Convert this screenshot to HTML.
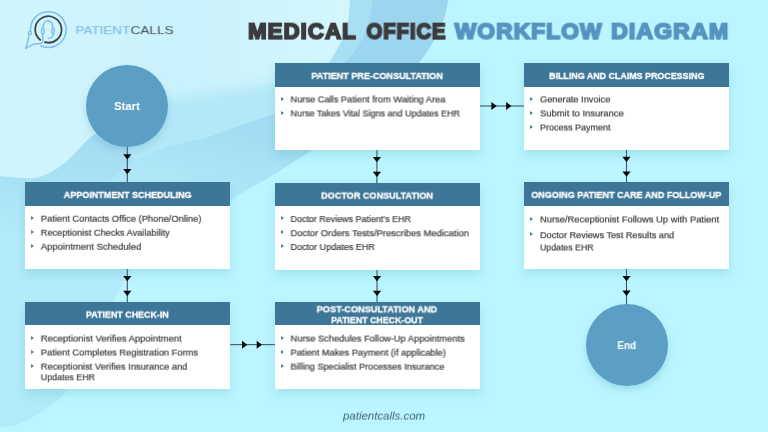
<!DOCTYPE html>
<html><head><meta charset="utf-8">
<style>
html,body{margin:0;padding:0;}
body{will-change:transform;width:768px;height:432px;overflow:hidden;position:relative;background:#bbf5ff;font-family:"Liberation Sans",sans-serif;}
.abs{position:absolute;left:0;top:0;}
.box{position:absolute;background:#fff;box-shadow:0 5px 9px rgba(60,160,178,0.21);}
.hd{position:absolute;background:#3e7697;}
.t{position:absolute;left:0;top:0;white-space:nowrap;height:20px;transform-origin:0 0;filter:blur(0.22px);}
.bl{position:absolute;width:0;height:0;border-left:3.4px solid #487f99;border-top:2.15px solid transparent;border-bottom:2.15px solid transparent;}
.circ{position:absolute;border-radius:50%;background:#5c9fc5;box-shadow:0 4px 7px rgba(60,150,178,0.25);}
</style></head><body>

<svg class="abs" width="768" height="432" viewBox="0 0 768 432">
<defs>
<linearGradient id="gR0" gradientUnits="userSpaceOnUse" x1="0" y1="0" x2="350" y2="0"><stop offset="0" stop-color="#d0f5fe"/><stop offset="0.25" stop-color="#cff4fd"/><stop offset="0.5" stop-color="#caf2fc"/><stop offset="0.75" stop-color="#cef4fd"/><stop offset="0.95" stop-color="#d4f7fe"/></linearGradient>
<linearGradient id="gM" gradientUnits="userSpaceOnUse" x1="235" y1="125" x2="215" y2="195">
<stop offset="0" stop-color="#a3dcf2"/><stop offset="1" stop-color="#b0e7f8"/>
</linearGradient>
<linearGradient id="gL" gradientUnits="userSpaceOnUse" x1="0" y1="140" x2="0" y2="430">
<stop offset="0" stop-color="#a4dbf1"/><stop offset="0.14" stop-color="#a9e2f5"/><stop offset="0.34" stop-color="#b3ebfa"/><stop offset="1" stop-color="#b1eaf9"/>
</linearGradient>
<linearGradient id="gF" gradientUnits="userSpaceOnUse" x1="222" y1="78" x2="226" y2="98">
<stop offset="0" stop-color="#d0f5fe" stop-opacity="1"/><stop offset="1" stop-color="#d0f5fe" stop-opacity="0"/>
</linearGradient>
<clipPath id="cR0"><path d="M-5 -5 L349.8 -5 L349.8 0 C349.6 8 349 15 348 22 C346.5 31 343.5 38 339.8 44.3 C336 51 333 57 329.8 62 C325 70 312 86 300 92 L276 98 L150 116 C135 118 110 125 93 135 C80 146 72 158 62 165 C55 170 50 173 47 174 C40 177 35 178.5 30 178.5 C20 178 10 177 0 176 L-5 176 Z"/></clipPath>
<filter id="soft" x="-20%" y="-20%" width="140%" height="140%"><feGaussianBlur stdDeviation="6"/></filter>
<filter id="s1" x="-5%" y="-5%" width="110%" height="110%"><feGaussianBlur stdDeviation="0.5"/></filter>
</defs>
<rect width="768" height="432" fill="#bbf5ff"/>
<g filter="url(#s1)">
<!-- band 2 top (between wave2 and wave3), continues hidden behind C -->
<path fill="#9cd5ef" d="M360 -5 L448.3 -5 L448.3 0 C447 8 445.3 15 442.7 22 C440 30 436 37.5 431.7 44.3 C428 50.5 424 56.5 419.5 62 C400 88 370 108 340 130 L300 130 L300 70 Z"/>
<!-- M region -->
<path fill="url(#gM)" d="M100 192 C112 180 122 168 135 161 C146 155 157 150 168 146.5 C182 142.5 196 140 210 136 L276 113 L330 96 L330 136 L312.5 150 L276 173.3 L230 200 L200 218 Z"/>
<!-- L region -->
<path fill="url(#gL)" d="M-5 120 L150 100 L150 152 C143 156 140 158 135 161 C122 168 112 180 100 192 L128 250 L131 269 C128 273 127 277 125 281 C121 288 117 294 113 301 C100 330 80 360 68 389 C66 392 63.5 394.5 61 397 C58 400 54.5 403 50.8 405.4 C45.5 409.5 40 413 33.9 416.4 C28.5 419.5 23 422.2 17 424.4 C11.5 426.2 6 427 0 427.4 L-5 427.6 Z"/>
<!-- band 1 top -->
<path fill="#a9dff3" d="M340 -5 L372.3 -5 L372.3 0 C371.5 8 370.3 15 368.6 22 C366.5 30 363.5 37.5 359.7 44.3 C355.5 51 350.5 57 345.3 62 C340 70 330 80 320 90 L290 90 L290 60 Z"/>
<!-- N region -->
<path fill="#b4e8f8" d="M127 70 L300 60 L300 105 L276 113 L210 136 C196 140 182 142.5 168 146.5 C157 150 146 155 135 161 L127 150 Z"/>
<!-- R0 -->
<path fill="url(#gR0)" d="M-5 -5 L349.8 -5 L349.8 0 C349.6 8 349 15 348 22 C346.5 31 343.5 38 339.8 44.3 C336 51 333 57 329.8 62 C325 70 312 86 300 92 L276 98 L150 116 C135 118 110 125 93 135 C80 146 72 158 62 165 C55 170 50 173 47 174 C40 177 35 178.5 30 178.5 C20 178 10 177 0 176 L-5 176 Z"/>
</g>
<g clip-path="url(#cR0)"><path filter="url(#soft)" fill="#b4e8f8" d="M347 40 C341 55 336 64 322 72 L300 78 L276 83 L168 98 L140 104 L140 160 L370 160 L370 40 Z"/></g>
</svg>

<svg class="abs" width="768" height="432" viewBox="0 0 768 432">
<g fill="none" stroke-linecap="round" stroke-linejoin="round">
<path d="M30.53 31.3 A17.85 17.85 0 1 1 40.87 45.83" stroke="#82bdea" stroke-width="1.6"/>
<circle cx="29.9" cy="33.1" r="1.6" stroke="#82bdea" stroke-width="1.3"/>
<path d="M29.3 34.9 L25.9 48.5 L32.8 44.3 L40.3 43.5 Q42.8 43.2 42.8 40.6 L42.8 34.4" stroke="#82bdea" stroke-width="1.45"/>
<path d="M40.29 39.92 A13.2 13.2 0 1 1 44.92 42.23" stroke="#3d464e" stroke-width="1.8"/>
<path d="M43.0 28.0 A4.95 7.6 0 0 1 52.9 28.0" stroke="#82bdea" stroke-width="1.5"/>
<ellipse cx="42.8" cy="31.1" rx="1.3" ry="2.9" stroke="#82bdea" stroke-width="1.4"/>
<ellipse cx="53.1" cy="31.1" rx="1.3" ry="2.9" stroke="#82bdea" stroke-width="1.4"/>
<path d="M53.2 34.2 Q53.0 38.0 48.3 38.4" stroke="#82bdea" stroke-width="1.35"/>
</g>
</svg>

<div class="t" style="font:11.5px 'Liberation Sans';line-height:20.0px;color:#84bce3;transform:translate(75.48px,20.10px) rotate(0.05deg) scaleX(1.1670);-webkit-text-stroke:0.15px #84bce3;">PATIENT</div>
<div class="t" style="font:11.5px 'Liberation Sans';line-height:20.0px;color:#434f59;transform:translate(130.60px,20.10px) rotate(0.05deg) scaleX(1.1804);">CALLS</div>
<div class="t" style="font:bold 22px 'Liberation Sans';line-height:20.0px;color:#3b3a3d;transform:translate(248.09px,21.60px) rotate(0.05deg) scaleX(1.0136);-webkit-text-stroke:1.80px currentColor;letter-spacing:1.0px;">MEDICAL</div>
<div class="t" style="font:bold 22px 'Liberation Sans';line-height:20.0px;color:#3b3a3d;transform:translate(366.50px,21.60px) rotate(0.05deg) scaleX(0.9236);-webkit-text-stroke:1.80px currentColor;letter-spacing:1.0px;">OFFICE</div>
<div class="t" style="font:bold 22px 'Liberation Sans';line-height:20.0px;color:#5594c0;transform:translate(454.70px,21.60px) rotate(0.05deg) scaleX(1.0378);-webkit-text-stroke:1.80px currentColor;letter-spacing:1.0px;">WORKFLOW</div>
<div class="t" style="font:bold 22px 'Liberation Sans';line-height:20.0px;color:#5594c0;transform:translate(611.15px,21.60px) rotate(0.05deg) scaleX(1.0526);-webkit-text-stroke:1.80px currentColor;letter-spacing:1.0px;">DIAGRAM</div>
<svg class="abs" width="768" height="432" viewBox="0 0 768 432"><rect x="126.75" y="146.00" width="1.1" height="36.60" fill="#10242c" opacity="0.75"/><path d="M123.20 154.20h8.2l-4.1 5.3z" fill="#050505"/><path d="M123.20 168.90h8.2l-4.1 5.3z" fill="#050505"/><rect x="126.75" y="268.80" width="1.1" height="33.60" fill="#10242c" opacity="0.75"/><path d="M123.20 276.05h8.2l-4.1 5.3z" fill="#050505"/><path d="M123.20 290.75h8.2l-4.1 5.3z" fill="#050505"/><rect x="376.35" y="149.50" width="1.1" height="33.90" fill="#10242c" opacity="0.75"/><path d="M372.80 157.00h8.2l-4.1 5.3z" fill="#050505"/><path d="M372.80 171.70h8.2l-4.1 5.3z" fill="#050505"/><rect x="376.45" y="269.40" width="1.1" height="33.00" fill="#10242c" opacity="0.75"/><path d="M372.90 276.05h8.2l-4.1 5.3z" fill="#050505"/><path d="M372.90 290.75h8.2l-4.1 5.3z" fill="#050505"/><rect x="625.95" y="149.50" width="1.1" height="33.20" fill="#10242c" opacity="0.75"/><path d="M622.40 156.80h8.2l-4.1 5.3z" fill="#050505"/><path d="M622.40 171.50h8.2l-4.1 5.3z" fill="#050505"/><rect x="625.95" y="268.80" width="1.1" height="35.70" fill="#10242c" opacity="0.75"/><path d="M622.40 275.90h8.2l-4.1 5.3z" fill="#050505"/><path d="M622.40 290.60h8.2l-4.1 5.3z" fill="#050505"/><rect x="229.80" y="344.10" width="45.20" height="1.1" fill="#10242c" opacity="0.75"/><path d="M241.97 340.65v8l5.3 -4z" fill="#050505"/><path d="M256.67 340.65v8l5.3 -4z" fill="#050505"/><rect x="479.40" y="105.45" width="45.10" height="1.1" fill="#10242c" opacity="0.75"/><path d="M491.40 102.00v8l5.3 -4z" fill="#050505"/><path d="M506.10 102.00v8l5.3 -4z" fill="#050505"/></svg>
<div class="circ" style="left:86.20px;top:64.80px;width:82.0px;height:82.0px"></div>
<div class="t" style="font:bold 10.4px 'Liberation Sans';line-height:20.0px;color:#fff;transform:translate(114.15px,97.00px) rotate(0.05deg) scaleX(1.0862);">Start</div>
<div class="circ" style="left:585.50px;top:303.90px;width:82.0px;height:82.0px"></div>
<div class="t" style="font:bold 10.4px 'Liberation Sans';line-height:20.0px;color:#fff;transform:translate(617.35px,336.10px) rotate(0.05deg) scaleX(0.9597);">End</div>
<div class="box" style="left:25.0px;top:182.2px;width:204.9px;height:86.90px"></div>
<div class="hd" style="left:25.0px;top:182.2px;width:204.9px;height:23.50px"></div>
<div class="t" style="font:bold 9.6px 'Liberation Sans';line-height:20.0px;color:#fff;transform:translate(63.75px,184.90px) rotate(0.05deg) scaleX(0.9406);-webkit-text-stroke:0.3px #fff;">APPOINTMENT SCHEDULING</div>
<div class="t" style="font:9.6px 'Liberation Sans';line-height:20.0px;color:#38383a;transform:translate(40.80px,208.70px) rotate(0.05deg) scaleX(0.9719);-webkit-text-stroke:0.2px #38383a;">Patient Contacts Office (Phone/Online)</div>
<i class="bl" style="left:30.90px;top:215.85px"></i>
<div class="t" style="font:9.6px 'Liberation Sans';line-height:20.0px;color:#38383a;transform:translate(40.80px,222.70px) rotate(0.05deg) scaleX(0.9567);-webkit-text-stroke:0.2px #38383a;">Receptionist Checks Availability</div>
<i class="bl" style="left:30.90px;top:229.85px"></i>
<div class="t" style="font:9.6px 'Liberation Sans';line-height:20.0px;color:#38383a;transform:translate(40.80px,236.70px) rotate(0.05deg) scaleX(0.9858);-webkit-text-stroke:0.2px #38383a;">Appointment Scheduled</div>
<i class="bl" style="left:30.90px;top:243.85px"></i>
<div class="box" style="left:25.0px;top:302.0px;width:204.9px;height:86.90px"></div>
<div class="hd" style="left:25.0px;top:302.0px;width:204.9px;height:23.40px"></div>
<div class="t" style="font:bold 9.6px 'Liberation Sans';line-height:20.0px;color:#fff;transform:translate(86.05px,304.60px) rotate(0.05deg) scaleX(0.9277);-webkit-text-stroke:0.3px #fff;">PATIENT CHECK-IN</div>
<div class="t" style="font:9.6px 'Liberation Sans';line-height:20.0px;color:#38383a;transform:translate(40.80px,328.55px) rotate(0.05deg) scaleX(0.9855);-webkit-text-stroke:0.2px #38383a;">Receptionist Verifies Appointment</div>
<i class="bl" style="left:30.90px;top:335.70px"></i>
<div class="t" style="font:9.6px 'Liberation Sans';line-height:20.0px;color:#38383a;transform:translate(40.80px,342.50px) rotate(0.05deg) scaleX(0.9698);-webkit-text-stroke:0.2px #38383a;">Patient Completes Registration Forms</div>
<i class="bl" style="left:30.90px;top:349.65px"></i>
<div class="t" style="font:9.6px 'Liberation Sans';line-height:20.0px;color:#38383a;transform:translate(40.80px,356.60px) rotate(0.05deg) scaleX(0.9743);-webkit-text-stroke:0.2px #38383a;">Receptionist Verifies Insurance and</div>
<i class="bl" style="left:30.90px;top:363.75px"></i>
<div class="t" style="font:9.6px 'Liberation Sans';line-height:20.0px;color:#38383a;transform:translate(40.80px,367.30px) rotate(0.05deg) scaleX(0.9246);-webkit-text-stroke:0.2px #38383a;">Updates EHR</div>
<div class="box" style="left:274.75px;top:63.4px;width:204.9px;height:86.35px"></div>
<div class="hd" style="left:274.75px;top:63.4px;width:204.9px;height:23.20px"></div>
<div class="t" style="font:bold 9.6px 'Liberation Sans';line-height:20.0px;color:#fff;transform:translate(311.45px,65.90px) rotate(0.05deg) scaleX(0.9437);-webkit-text-stroke:0.3px #fff;">PATIENT PRE-CONSULTATION</div>
<div class="t" style="font:9.6px 'Liberation Sans';line-height:20.0px;color:#38383a;transform:translate(290.55px,89.40px) rotate(0.05deg) scaleX(0.9638);-webkit-text-stroke:0.2px #38383a;">Nurse Calls Patient from Waiting Area</div>
<i class="bl" style="left:280.65px;top:96.55px"></i>
<div class="t" style="font:9.6px 'Liberation Sans';line-height:20.0px;color:#38383a;transform:translate(290.55px,103.40px) rotate(0.05deg) scaleX(0.9365);-webkit-text-stroke:0.2px #38383a;">Nurse Takes Vital Signs and Updates EHR</div>
<i class="bl" style="left:280.65px;top:110.55px"></i>
<div class="box" style="left:274.75px;top:183.0px;width:204.9px;height:86.70px"></div>
<div class="hd" style="left:274.75px;top:183.0px;width:204.9px;height:23.40px"></div>
<div class="t" style="font:bold 9.6px 'Liberation Sans';line-height:20.0px;color:#fff;transform:translate(321.20px,185.60px) rotate(0.05deg) scaleX(0.9475);-webkit-text-stroke:0.3px #fff;">DOCTOR CONSULTATION</div>
<div class="t" style="font:9.6px 'Liberation Sans';line-height:20.0px;color:#38383a;transform:translate(290.55px,209.10px) rotate(0.05deg) scaleX(0.9308);-webkit-text-stroke:0.2px #38383a;">Doctor Reviews Patient’s EHR</div>
<i class="bl" style="left:280.65px;top:216.25px"></i>
<div class="t" style="font:9.6px 'Liberation Sans';line-height:20.0px;color:#38383a;transform:translate(290.55px,223.20px) rotate(0.05deg) scaleX(0.9796);-webkit-text-stroke:0.2px #38383a;">Doctor Orders Tests/Prescribes Medication</div>
<i class="bl" style="left:280.65px;top:230.35px"></i>
<div class="t" style="font:9.6px 'Liberation Sans';line-height:20.0px;color:#38383a;transform:translate(290.55px,237.00px) rotate(0.05deg) scaleX(0.9415);-webkit-text-stroke:0.2px #38383a;">Doctor Updates EHR</div>
<i class="bl" style="left:280.65px;top:244.15px"></i>
<div class="box" style="left:274.75px;top:302.0px;width:204.9px;height:86.90px"></div>
<div class="hd" style="left:274.75px;top:302.0px;width:204.9px;height:23.40px"></div>
<div class="t" style="font:bold 9.6px 'Liberation Sans';line-height:20.0px;color:#fff;transform:translate(316.75px,299.30px) rotate(0.05deg) scaleX(0.9566);-webkit-text-stroke:0.3px #fff;">POST-CONSULTATION AND</div>
<div class="t" style="font:bold 9.6px 'Liberation Sans';line-height:20.0px;color:#fff;transform:translate(331.20px,310.20px) rotate(0.05deg) scaleX(0.9202);-webkit-text-stroke:0.3px #fff;">PATIENT CHECK-OUT</div>
<div class="t" style="font:9.6px 'Liberation Sans';line-height:20.0px;color:#38383a;transform:translate(290.55px,328.55px) rotate(0.05deg) scaleX(0.9693);-webkit-text-stroke:0.2px #38383a;">Nurse Schedules Follow-Up Appointments</div>
<i class="bl" style="left:280.65px;top:335.70px"></i>
<div class="t" style="font:9.6px 'Liberation Sans';line-height:20.0px;color:#38383a;transform:translate(290.55px,342.60px) rotate(0.05deg) scaleX(0.9643);-webkit-text-stroke:0.2px #38383a;">Patient Makes Payment (if applicable)</div>
<i class="bl" style="left:280.65px;top:349.75px"></i>
<div class="t" style="font:9.6px 'Liberation Sans';line-height:20.0px;color:#38383a;transform:translate(290.55px,356.60px) rotate(0.05deg) scaleX(0.9514);-webkit-text-stroke:0.2px #38383a;">Billing Specialist Processes Insurance</div>
<i class="bl" style="left:280.65px;top:363.75px"></i>
<div class="box" style="left:524.3px;top:63.4px;width:204.9px;height:86.35px"></div>
<div class="hd" style="left:524.3px;top:63.4px;width:204.9px;height:23.20px"></div>
<div class="t" style="font:bold 9.6px 'Liberation Sans';line-height:20.0px;color:#fff;transform:translate(549.15px,65.90px) rotate(0.05deg) scaleX(0.9269);-webkit-text-stroke:0.3px #fff;">BILLING AND CLAIMS PROCESSING</div>
<div class="t" style="font:9.6px 'Liberation Sans';line-height:20.0px;color:#38383a;transform:translate(540.10px,89.40px) rotate(0.05deg) scaleX(0.9625);-webkit-text-stroke:0.2px #38383a;">Generate Invoice</div>
<i class="bl" style="left:530.20px;top:96.55px"></i>
<div class="t" style="font:9.6px 'Liberation Sans';line-height:20.0px;color:#38383a;transform:translate(540.10px,103.40px) rotate(0.05deg) scaleX(0.9813);-webkit-text-stroke:0.2px #38383a;">Submit to Insurance</div>
<i class="bl" style="left:530.20px;top:110.55px"></i>
<div class="t" style="font:9.6px 'Liberation Sans';line-height:20.0px;color:#38383a;transform:translate(540.10px,117.50px) rotate(0.05deg) scaleX(0.9376);-webkit-text-stroke:0.2px #38383a;">Process Payment</div>
<i class="bl" style="left:530.20px;top:124.65px"></i>
<div class="box" style="left:524.3px;top:182.3px;width:204.9px;height:86.80px"></div>
<div class="hd" style="left:524.3px;top:182.3px;width:204.9px;height:23.50px"></div>
<div class="t" style="font:bold 9.6px 'Liberation Sans';line-height:20.0px;color:#fff;transform:translate(531.35px,184.90px) rotate(0.05deg) scaleX(0.9394);-webkit-text-stroke:0.3px #fff;">ONGOING PATIENT CARE AND FOLLOW-UP</div>
<div class="t" style="font:9.6px 'Liberation Sans';line-height:20.0px;color:#38383a;transform:translate(540.10px,209.40px) rotate(0.05deg) scaleX(0.9763);-webkit-text-stroke:0.2px #38383a;">Nurse/Receptionist Follows Up with Patient</div>
<i class="bl" style="left:530.20px;top:216.55px"></i>
<div class="t" style="font:9.6px 'Liberation Sans';line-height:20.0px;color:#38383a;transform:translate(540.10px,225.20px) rotate(0.05deg) scaleX(0.9535);-webkit-text-stroke:0.2px #38383a;">Doctor Reviews Test Results and</div>
<i class="bl" style="left:530.20px;top:232.35px"></i>
<div class="t" style="font:9.6px 'Liberation Sans';line-height:20.0px;color:#38383a;transform:translate(540.10px,237.50px) rotate(0.05deg) scaleX(0.9127);-webkit-text-stroke:0.2px #38383a;">Updates EHR</div>
<div class="t" style="font:italic 11.56px 'Liberation Sans';line-height:20.0px;color:#3f6379;transform:translate(343.09px,405.60px) rotate(0.05deg) scaleX(0.9920);">patientcalls.com</div>
</body></html>
